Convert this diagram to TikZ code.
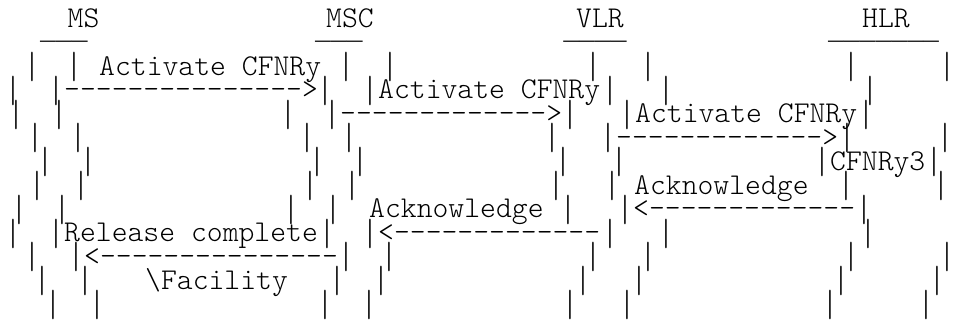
\documentclass[tikz,border=0pt]{standalone}
\usepackage{fontspec}
\usepackage{graphicx}
\newfontfamily\asciifont{Latin Modern Mono Light}
\newfontfamily\rulefont{Liberation Mono}
\newcommand\lifebar{\scalebox{1}[1.25]{|}}
\usepackage{tikz}

\begin{document}
\begin{tikzpicture}[x=1pt, y=-1pt,
    txt/.style={font={\asciifont\fontsize{30.2}{32}\selectfont}, inner sep=0pt, anchor=base west},
    vbar/.style={txt, anchor=base, yshift=-3.5pt},
    head/.style={txt, anchor=base},
    uline/.style={font={\rulefont\fontsize{26.4}{28}\selectfont}, inner sep=0pt, anchor=base}]
  \useasboundingbox (0,0) rectangle (958,322);
  % entity names and their bars
  \node[head] (ms)  at (83.5,27) {MS};
  \node[head] (msc) at (350,27)  {MSC};
  \node[head] (vlr) at (600,27)  {VLR};
  \node[head] (hlr) at (886,27)  {HLR};
  \node[uline] (msline)  at (64,39.5)    {\_\_\_};
  \node[uline] (mscline) at (339,39.5)   {\_\_\_};
  \node[uline] (vlrline) at (595,39.5)   {\_\_\_\_};
  \node[uline] (hlrline) at (883.5,39.5) {\_\_\_\_\_\_\_};
  % life lines, one row at a time
  \foreach \x [count=\i] in {32,74,346,390,593,648,851,947} \node[vbar] (a\i) at (\x,75) {\lifebar};
  \foreach \x [count=\i] in {13,56,325,370,610,666,870} \node[vbar] (b\i) at (\x,98.8) {\lifebar};
  \foreach \x [count=\i] in {16,59,288,332,570,627,866} \node[vbar] (c\i) at (\x,122.6) {\lifebar};
  \foreach \x [count=\i] in {35,78,307,349,552,608,847,945} \node[vbar] (d\i) at (\x,146.4) {\lifebar};
  \foreach \x [count=\i] in {45,88,317,360,563,619,822,934} \node[vbar] (e\i) at (\x,170.2) {\lifebar};
  \foreach \x [count=\i] in {37,81,310,352,556,612,846,941} \node[vbar] (f\i) at (\x,194) {\lifebar};
  \foreach \x [count=\i] in {19,62,291,333,568,625,864} \node[vbar] (g\i) at (\x,217.8) {\lifebar};
  \foreach \x [count=\i] in {13,56,327,370,610,666,868} \node[vbar] (h\i) at (\x,241.6) {\lifebar};
  \foreach \x [count=\i] in {32,76,346,389,593,648,851,947} \node[vbar] (i\i) at (\x,265.4) {\lifebar};
  \foreach \x [count=\i] in {42,85,337,381,583,639,841,937} \node[vbar] (j\i) at (\x,289.2) {\lifebar};
  \foreach \x [count=\i] in {53,97,325,369,570,627,830,926} \node[vbar] (k\i) at (\x,313) {\lifebar};
  % messages
  \node[txt] (act1)  at (99,75)     {Activate CFNRy};
  \node[txt] (arr1)  at (64,98.8)   {--------------->};
  \node[txt] (act2)  at (378,98.8)  {Activate CFNRy};
  \node[txt] (arr2)  at (340,122.6) {------------->};
  \node[txt] (act3)  at (635,122.6) {Activate CFNRy};
  \node[txt] (arr3)  at (616,146.4) {------------->};
  \node[txt] (cfnry) at (830,170.2) {CFNRy3};
  \node[txt] (ack1)  at (634,194)   {Acknowledge};
  \node[txt] (ack2)  at (369,217.8) {Acknowledge};
  \node[txt] (arr4)  at (633,217.8) {<-------------};
  \node[txt] (rel)   at (64,241.6)  {Release complete};
  \node[txt] (arr5)  at (378,241.6) {<-------------};
  \node[txt] (arr6)  at (84,265.4)  {<---------------};
  \node[txt] (fac)   at (145,289.2) {\textbackslash Facility};
\end{tikzpicture}
\end{document}
